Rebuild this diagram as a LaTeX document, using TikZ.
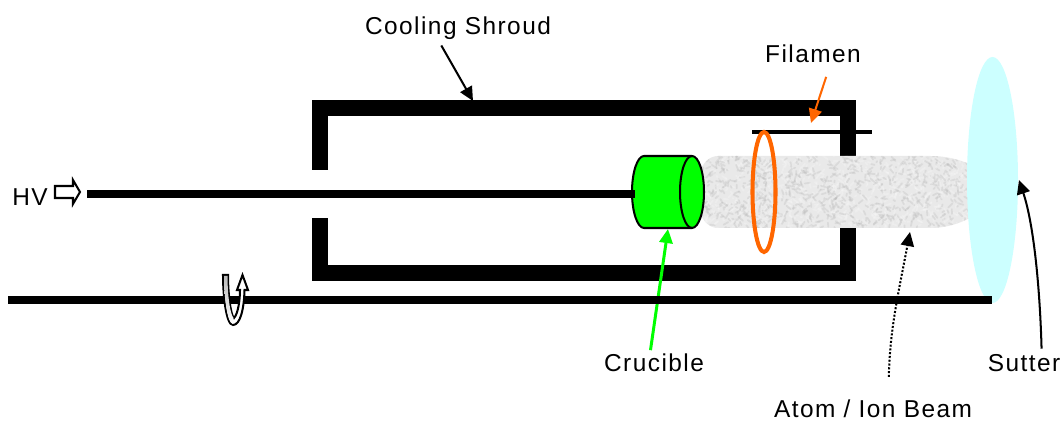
\documentclass[tikz,border=0pt]{standalone}
\usepackage{fontspec}
\setmainfont[LetterSpace=6]{Liberation Sans}
\usetikzlibrary{arrows.meta}
\definecolor{filamentorange}{RGB}{255,102,0}
\definecolor{cruciblegreen}{RGB}{0,255,0}
\definecolor{shuttercyan}{RGB}{204,255,255}
\tikzset{
  label text/.style={inner sep=0pt,font=\fontsize{13.9pt}{15pt}\selectfont},
  wall/.style={line width=9.07pt,black},
  rod/.style={line width=4.5pt,black},
  pointer/.style={-{Triangle[length=8pt,width=7.5pt]},line width=1.15pt},
}
\begin{document}
\begin{tikzpicture}[x=0.02cm,y=-0.02cm]
\useasboundingbox (0,0) rectangle (1062,421);
% shroud, open on the left for the rod
\draw[wall,miter limit=10] (320,170) -- (320,108) -- (848,108) -- (848,273) -- (320,273) -- (320,218);
% beam with a grainy fill
\begin{scope}
\clip (700,172) .. controls (703,162) and (710,156) .. (718,156) -- (930,156)
  .. controls (948,156) and (960,160) .. (972,165) -- (972,217)
  .. controls (960,223) and (948,228) .. (930,228) -- (718,228)
  .. controls (710,228) and (703,222) .. (700,212) -- cycle;
\fill[gray!17] (695,150) rectangle (975,235);
\pgfmathsetseed{42}
\foreach \i in {1,...,1500}{
  \pgfmathsetmacro{\grainx}{700+272*rnd}
  \pgfmathsetmacro{\grainy}{156+72*rnd}
  \pgfmathsetmacro{\grainshade}{rnd>0.5?28:3}
  \pgfmathsetmacro{\grainrun}{rnd*10-5}
  \pgfmathsetmacro{\grainrise}{rnd*10-5}
  \draw[black!\grainshade!white,opacity=.3,line width=1pt,line cap=round] (\grainx,\grainy) -- ++(\grainrun,\grainrise);
}
\end{scope}
\coordinate (beamtip) at (910,232);
% shutter disc and the two rods
\fill[shuttercyan] (992.5,180) ellipse [x radius=25.5,y radius=123];
\coordinate (shuttertip) at (1019,180);
% crucible
\draw[line width=1.15pt,fill=cruciblegreen] (644,156) -- (692,156) arc [start angle=90,end angle=-90,x radius=12,y radius=-36] -- (644,228) arc [start angle=-90,end angle=-270,x radius=12,y radius=-36] -- cycle;
\draw[line width=1.15pt] (692,156) arc [start angle=90,end angle=270,x radius=12,y radius=-36];
\coordinate (crucibletip) at (668,229);
\draw[rod] (87,194) -- (635,194);
% filament
\draw[line width=2.3pt] (752,132) -- (872,132);
\draw[filamentorange,line width=2.3pt] (764,192) ellipse [x radius=11.5,y radius=60];
\coordinate (filamenttip) at (811,123);
\coordinate (shroudtip) at (473,101);
% texts
\node[label text] (cooling) at (458,28.5) {Cooling Shroud};
\node[label text] (filamen) at (813,53.5) {Filamen};
\node[label text] (hv) at (30,197) {HV};
\node[label text] (crucible) at (654,363) {Crucible};
\node[label text] (beam) at (873,409) {Atom / Ion Beam};
\node[label text] (sutter) at (1024,363) {Sutter};
% pointers
\draw[pointer] ([xshift=-9.5pt,yshift=-3pt]cooling.south) -- (shroudtip);
\draw[pointer,filamentorange] ([xshift=7.5pt,yshift=-8pt]filamen.south) -- (filamenttip);
\draw[pointer,cruciblegreen,line width=1.7pt] ([xshift=-2pt,yshift=2pt]crucible.north) -- (crucibletip);
\draw[pointer,densely dotted] ([xshift=9pt,yshift=13pt]beam.north) .. controls (890,330) and (897,300) .. (beamtip);
\draw[pointer] ([xshift=10pt,yshift=3pt]sutter.north) .. controls (1040,290) and (1034,225) .. (shuttertip);
\draw[rod] (8,300) -- (992,300);
% HV arrow
\draw[line width=1.15pt,fill=white] (55,186) -- (73,186) -- (73,180) -- (80,192) -- (73,204) -- (73,198) -- (55,198) -- cycle;
% rotation arrow
\draw[line width=1.15pt,fill=white] (223,275) -- (228,275) .. controls (228,295) and (231,316) .. (234,318)
  .. controls (238,314) and (240,300) .. (240,290) -- (237,290) -- (242.5,275) -- (248,290) -- (244.5,290)
  .. controls (244,310) and (240,325) .. (233,325) .. controls (226,325) and (223,295) .. (223,275) -- cycle;
\shade[top color=gray!55,bottom color=white] (224,276) -- (227.5,276) .. controls (227.5,295) and (230,314) .. (233.5,318) -- (233,324) .. controls (227,324) and (224,295) .. (224,276) -- cycle;
\end{tikzpicture}
\end{document}
